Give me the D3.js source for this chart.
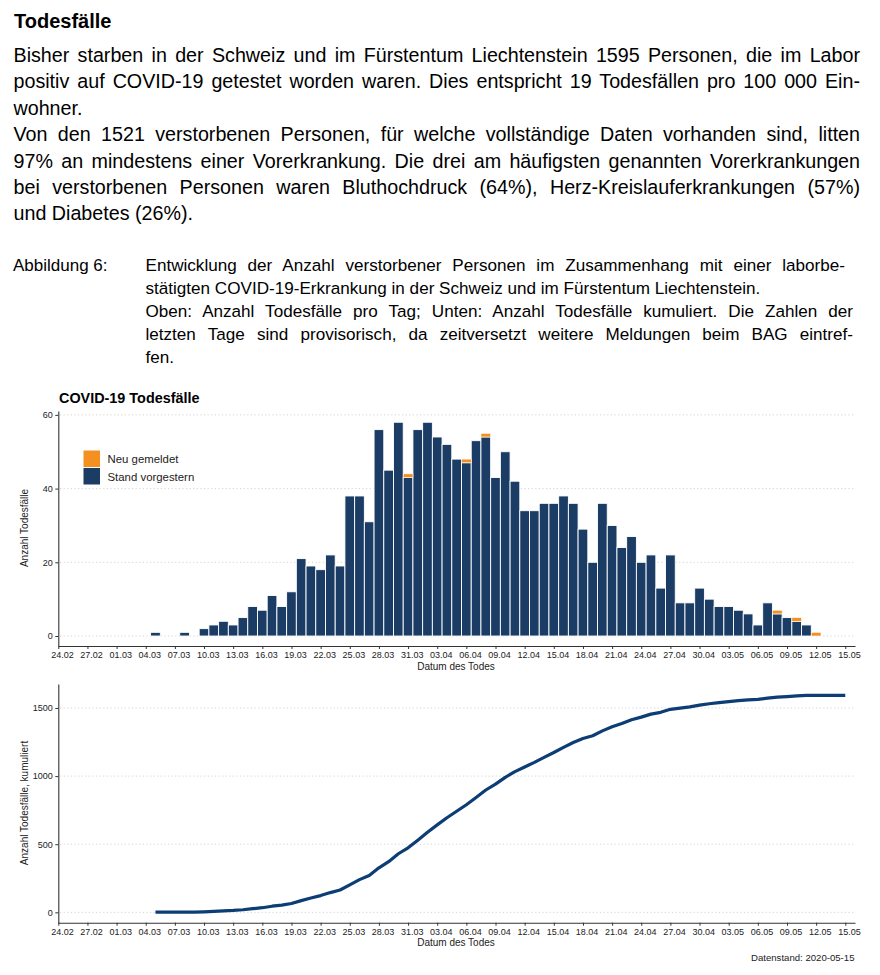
<!DOCTYPE html>
<html>
<head>
<meta charset="utf-8">
<title>COVID-19 Todesfälle</title>
<style>
  body { margin: 0; background: #fff; }
  svg text { font-family: 'Liberation Sans', Arial, Helvetica, sans-serif; }
</style>
<script src="https://cdnjs.cloudflare.com/ajax/libs/d3/7.8.5/d3.min.js"></script>
</head>
<body>
<div id="plot"></div>
<script>
// days shown in the bar chart / cumulative line
var dayLabels = [
  "05.03","06.03","07.03","08.03","09.03","10.03","11.03","12.03","13.03","14.03",
  "15.03","16.03","17.03","18.03","19.03","20.03","21.03","22.03","23.03","24.03",
  "25.03","26.03","27.03","28.03","29.03","30.03","31.03","01.04","02.04","03.04",
  "04.04","05.04","06.04","07.04","08.04","09.04","10.04","11.04","12.04","13.04",
  "14.04","15.04","16.04","17.04","18.04","19.04","20.04","21.04","22.04","23.04",
  "24.04","25.04","26.04","27.04","28.04","29.04","30.04","01.05","02.05","03.05",
  "04.05","05.05","06.05","07.05","08.05","09.05","10.05","11.05","12.05","13.05",
  "14.05","15.05"];

// "Stand vorgestern"
var stand = [
  1, 0, 0, 1, 0, 2, 3, 4, 3, 5,
  8, 7, 11, 8, 12, 21, 19, 18, 22, 19,
  38, 38, 31, 56, 45, 58, 43, 56, 58, 54,
  52, 48, 47, 53, 54, 43, 50, 42, 34, 34,
  36, 36, 38, 36, 29, 20, 36, 30, 24, 27,
  20, 22, 13, 22, 9, 9, 13, 10, 8, 8,
  7, 6, 3, 9, 6, 5, 4, 3, 0, 0,
  0, 0];

// "Neu gemeldet"
var neu = [
  0, 0, 0, 0, 0, 0, 0, 0, 0, 0,
  0, 0, 0, 0, 0, 0, 0, 0, 0, 0,
  0, 0, 0, 0, 0, 0, 1, 0, 0, 0,
  0, 0, 1, 0, 1, 0, 0, 0, 0, 0,
  0, 0, 0, 0, 0, 0, 0, 0, 0, 0,
  0, 0, 0, 0, 0, 0, 0, 0, 0, 0,
  0, 0, 0, 0, 1, 0, 1, 0, 1, 0,
  0, 0];

var tickLabels = ["24.02","27.02","01.03","04.03","07.03","10.03","13.03","16.03",
  "19.03","22.03","25.03","28.03","31.03","03.04","06.04","09.04","12.04","15.04",
  "18.04","21.04","24.04","27.04","30.04","03.05","06.05","09.05","12.05","15.05"];
var yTicksTop = [0, 20, 40, 60];
var yTicksBottom = [0, 500, 1000, 1500];

var heading = "Todesfälle";
var paragraph = [
  ["Bisher starben in der Schweiz und im Fürstentum Liechtenstein 1595 Personen, die im Labor", true],
  ["positiv auf COVID-19 getestet worden waren. Dies entspricht 19 Todesfällen pro 100 000 Ein-", true],
  ["wohner.", false],
  ["Von den 1521 verstorbenen Personen, für welche vollständige Daten vorhanden sind, litten", true],
  ["97% an mindestens einer Vorerkrankung. Die drei am häufigsten genannten Vorerkrankungen", true],
  ["bei verstorbenen Personen waren Bluthochdruck (64%), Herz-Kreislauferkrankungen (57%)", true],
  ["und Diabetes (26%).", false]
];
var captionLabel = "Abbildung 6:";
var caption = [
  ["Entwicklung der Anzahl verstorbener Personen im Zusammenhang mit einer laborbe-", 845],
  ["stätigten COVID-19-Erkrankung in der Schweiz und im Fürstentum Liechtenstein.", 0],
  ["Oben: Anzahl Todesfälle pro Tag; Unten: Anzahl Todesfälle kumuliert. Die Zahlen der", 853],
  ["letzten Tage sind provisorisch, da zeitversetzt weitere Meldungen beim BAG eintref-", 853],
  ["fen.", 0]
];

var navy = "#1b3c64", orange = "#f39020", lineBlue = "#0c3d75";
var parseDay = function(s) { return d3.utcParse("%d.%m.%Y")(s + ".2020"); };
var days = dayLabels.map(parseDay);
var total = stand.map(function(v, i) { return v + neu[i]; });
var cumul = Array.from(d3.cumsum(total));

var svg = d3.select("#plot").append("svg")
  .attr("width", 880).attr("height", 975);

function justify(node, target) {
  var len = node.getComputedTextLength();
  var n = (node.textContent.match(/ /g) || []).length;
  if (n && target > len) d3.select(node).attr("word-spacing", (target - len) / n);
}

// ---- text block ----
svg.append("text").attr("x", 14).attr("y", 27.5)
  .style("font-size", "20px").style("font-weight", "bold").text(heading);

svg.selectAll("text.para").data(paragraph).enter().append("text")
  .attr("class", "para")
  .attr("x", 13.5)
  .attr("y", function(d, i) { return 62 + i * 26.4; })
  .style("font-size", "19.7px")
  .text(function(d) { return d[0]; })
  .each(function(d) { if (d[1]) justify(this, 860 - 13.5); });

svg.append("text").attr("x", 13).attr("y", 271)
  .style("font-size", "17px").text(captionLabel);

svg.selectAll("text.cap").data(caption).enter().append("text")
  .attr("class", "cap")
  .attr("x", 145.5)
  .attr("y", function(d, i) { return 271 + i * 22.9; })
  .style("font-size", "17.1px")
  .text(function(d) { return d[0]; })
  .each(function(d) { if (d[1]) justify(this, d[1] - 145.5); });

// ---- shared x scale ----
var x = d3.scaleUtc()
  .domain([parseDay("24.02"), parseDay("16.05")])
  .range([58.3, 855]);
var bw = x(parseDay("02.03")) - x(parseDay("01.03"));
var tickDates = tickLabels.map(parseDay);

function styleAxis(g) {
  g.selectAll("path.domain").attr("stroke", "#333").attr("stroke-width", 1.1);
  g.selectAll(".tick line").attr("stroke", "#333").attr("stroke-width", 1);
  g.selectAll(".tick text").attr("fill", "#222").style("font-size", "9px")
    .style("font-family", "'Liberation Sans', Arial, sans-serif");
}

function xAxis(y0) {
  var g = svg.append("g").attr("transform", "translate(0," + y0 + ")")
    .call(d3.axisBottom(x).tickValues(tickDates)
      .tickFormat(d3.utcFormat("%d.%m")).tickSize(3).tickSizeOuter(0).tickPadding(3));
  styleAxis(g);
  g.selectAll(".tick text").attr("dx", 3.6);
}

function grid(y, ticks) {
  svg.append("g").selectAll("line").data(ticks).enter().append("line")
    .attr("x1", 60).attr("x2", 855)
    .attr("y1", function(d) { return y(d); }).attr("y2", function(d) { return y(d); })
    .attr("stroke", "#cfcfcf").attr("stroke-width", 0.9)
    .attr("stroke-dasharray", "1.2,2.4");
}

// ---- top: daily deaths ----
var yTop = d3.scaleLinear().domain([-2.71, 61.05]).range([646, 411]);
grid(yTop, yTicksTop);

var bars = svg.append("g");
bars.selectAll("rect.stand").data(days).enter().append("rect")
  .attr("x", function(d) { return x(d) - bw / 2; })
  .attr("width", bw)
  .attr("y", function(d, i) { return yTop(stand[i]); })
  .attr("height", function(d, i) { return yTop(0) - yTop(stand[i]); })
  .attr("fill", navy).attr("stroke", "#fff").attr("stroke-width", 0.9)
  .style("display", function(d, i) { return stand[i] ? null : "none"; });
bars.selectAll("rect.neu").data(days).enter().append("rect")
  .attr("x", function(d) { return x(d) - bw / 2; })
  .attr("width", bw)
  .attr("y", function(d, i) { return yTop(total[i]); })
  .attr("height", function(d, i) { return yTop(stand[i]) - yTop(total[i]); })
  .attr("fill", orange).attr("stroke", "#fff").attr("stroke-width", 0.6)
  .style("display", function(d, i) { return neu[i] ? null : "none"; });

var gyTop = svg.append("g").attr("transform", "translate(58.3,0)")
  .call(d3.axisLeft(yTop).tickValues(yTicksTop).tickFormat(d3.format("d"))
    .tickSize(3).tickSizeOuter(0).tickPadding(2.5));
styleAxis(gyTop);
xAxis(646);

svg.append("text").attr("x", 59).attr("y", 403)
  .style("font-size", "14.4px").style("font-weight", "bold").text("COVID-19 Todesfälle");
svg.append("text").attr("transform", "translate(28,528) rotate(-90)")
  .attr("text-anchor", "middle").style("font-size", "10px").attr("fill", "#222")
  .text("Anzahl Todesfälle");
svg.append("text").attr("x", 456).attr("y", 670).attr("text-anchor", "middle")
  .style("font-size", "10px").attr("fill", "#222").text("Datum des Todes");

// legend
var legend = [["Neu gemeldet", orange], ["Stand vorgestern", navy]];
var lg = svg.append("g").selectAll("g").data(legend).enter().append("g")
  .attr("transform", function(d, i) { return "translate(83.5," + (450.5 + i * 17.5) + ")"; });
lg.append("rect").attr("width", 16.5).attr("height", 16.5)
  .attr("fill", function(d) { return d[1]; });
lg.append("text").attr("x", 24).attr("y", 12.5).style("font-size", "11.4px").attr("fill", "#222")
  .text(function(d) { return d[0]; });

// ---- bottom: cumulative ----
var yBot = d3.scaleLinear().domain([-76, 1676]).range([922.7, 684]);
grid(yBot, yTicksBottom);

svg.append("path").datum(days)
  .attr("d", d3.line()
    .x(function(d) { return x(d); })
    .y(function(d, i) { return yBot(cumul[i]); }))
  .attr("fill", "none").attr("stroke", lineBlue).attr("stroke-width", 3.2)
  .attr("stroke-linejoin", "round");

var gyBot = svg.append("g").attr("transform", "translate(58.3,0)")
  .call(d3.axisLeft(yBot).tickValues(yTicksBottom).tickFormat(d3.format("d"))
    .tickSize(3).tickSizeOuter(0).tickPadding(2.5));
styleAxis(gyBot);
xAxis(922.7);

svg.append("text").attr("transform", "translate(28,803) rotate(-90)")
  .attr("text-anchor", "middle").style("font-size", "10px").attr("fill", "#222")
  .text("Anzahl Todesfälle, kumuliert");
svg.append("text").attr("x", 456).attr("y", 946).attr("text-anchor", "middle")
  .style("font-size", "10px").attr("fill", "#222").text("Datum des Todes");
svg.append("text").attr("x", 854.5).attr("y", 961).attr("text-anchor", "end")
  .style("font-size", "9.6px").attr("fill", "#222").text("Datenstand: 2020-05-15");
</script>
</body>
</html>
